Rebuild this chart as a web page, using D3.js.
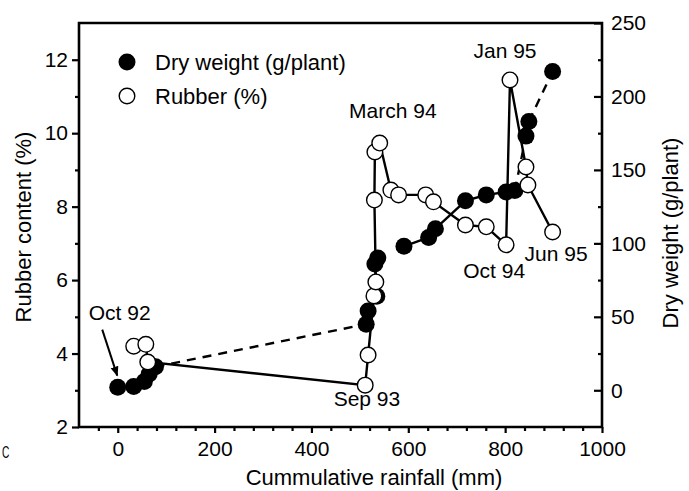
<!DOCTYPE html>
<html>
<head>
<meta charset="utf-8">
<script src="https://cdn.jsdelivr.net/npm/d3@7"></script>
<style>
  html, body { margin: 0; padding: 0; background: #fff; }
  svg text { font-family: "Liberation Sans", Arial, Helvetica, sans-serif; fill: #000; }
</style>
</head>
<body>
<svg id="chart" width="689" height="491"></svg>
<script>
// Cumulative rainfall (mm) and dry weight (g/plant) of the plants
const dryX = [0, 33, 55, 65, 78, 513, 517, 535, 531, 537, 591, 642, 656, 718, 761, 802, 820, 843, 849, 898];
const dryY = [2, 2.5, 6, 11, 16, 45, 54, 64, 86, 90, 98, 104, 110, 129, 133, 135, 136, 173, 183, 217];
// link to the next sampling: "solid" measured run, "dash" gap between runs, "none" not joined
const dryLink = ["solid", "solid", "solid", "solid", "dash", "solid", "solid", "solid", "solid", "none",
                 "solid", "solid", "solid", "solid", "solid", "solid", "dash", "solid", "dash"];

// Cumulative rainfall (mm) and rubber content (%)
const rubX = [33, 58, 62, 511, 517, 529, 533, 530, 531, 541, 564, 580, 636, 652, 718, 761, 802, 810, 843, 847, 898];
const rubY = [4.2, 4.25, 3.77, 3.14, 3.96, 5.57, 5.95, 8.18, 9.49, 9.73, 8.45, 8.32, 8.32, 8.13, 7.5, 7.45, 6.96, 11.45, 9.08, 8.59, 7.31];

// Tick values
const xMajor = [0, 200, 400, 600, 800, 1000];
const xMinor = [-40, 40, 80, 120, 160, 240, 280, 320, 360, 440, 480, 520, 560, 640, 680, 720, 760, 840, 880, 920, 960];
const leftMajor = [2, 4, 6, 8, 10, 12];
const leftMinor = [3, 5, 7, 9, 11];
const rightMajor = [0, 50, 100, 150, 200, 250];
const rightMinor = [25, 75, 125, 175, 225];

// Sampling dates (anchored near the sample they name)
const dateLabels = [
  { text: "Oct 92", x: 0, y: 4.91, anchor: "start", dx: -29 },
  { text: "Sep 93", x: 511, y: 2.57, anchor: "end", dx: 35 },
  { text: "March 94", x: 531, y: 10.41, anchor: "middle", dx: 18 },
  { text: "Oct 94", x: 802, y: 6.06, anchor: "end", dx: 19 },
  { text: "Jan 95", x: 810, y: 12.05, anchor: "middle", dx: -5 },
  { text: "Jun 95", x: 898, y: 6.52, anchor: "end", dx: 35 }
];

const svg = d3.select("#chart");
const L = 79, R = 602, T = 23, B = 427;

const x = d3.scaleLinear().domain([-80, 1000]).range([L, R]);
const yL = d3.scaleLinear().domain([2, 13]).range([B, T]);
const yR = d3.scaleLinear().domain([-25, 250]).range([B, T]);

const fs = 21;

// axes
function styleAxis(g) {
  g.select(".domain").remove();
  g.selectAll("line").attr("stroke", "#000").attr("stroke-width", 2.2);
  g.selectAll("text").style("font-size", fs + "px").attr("fill", "#000");
}

svg.append("g").attr("transform", `translate(${L},0)`)
  .call(d3.axisLeft(yL).tickValues(leftMinor).tickSize(4).tickFormat(""))
  .call(styleAxis);
svg.append("g").attr("transform", `translate(${L},0)`)
  .call(d3.axisLeft(yL).tickValues(leftMajor).tickSize(7).tickPadding(4).tickFormat(d3.format("d")))
  .call(styleAxis);

svg.append("g").attr("transform", `translate(0,${B})`)
  .call(d3.axisBottom(x).tickValues(xMinor).tickSize(4).tickFormat(""))
  .call(styleAxis);
svg.append("g").attr("transform", `translate(0,${B})`)
  .call(d3.axisBottom(x).tickValues(xMajor).tickSize(6).tickPadding(8).tickFormat(d3.format("d")))
  .call(styleAxis);

svg.append("g").attr("transform", `translate(${R},0)`)
  .call(d3.axisRight(yR).tickValues(rightMinor).tickSizeInner(-4).tickSizeOuter(0).tickFormat(""))
  .call(styleAxis);
svg.append("g").attr("transform", `translate(${R},0)`)
  .call(d3.axisRight(yR).tickValues(rightMajor).tickSizeInner(-8).tickSizeOuter(0).tickPadding(9).tickFormat(d3.format("d")))
  .call(styleAxis);

// frame
svg.append("path")
  .attr("d", `M${L},${T}H${R}V${B}H${L}Z`)
  .attr("fill", "none").attr("stroke", "#000").attr("stroke-width", 2.6);

// axis titles
svg.append("text").attr("transform", `translate(31,${(T + B) / 2 + 2}) rotate(-90)`)
  .attr("text-anchor", "middle").style("font-size", "22px").text("Rubber content (%)");
svg.append("text").attr("transform", `translate(678,${(T + B) / 2 + 8}) rotate(-90)`)
  .attr("text-anchor", "middle").style("font-size", "22px").text("Dry weight (g/plant)");
svg.append("text").attr("x", 374).attr("y", 485)
  .attr("text-anchor", "middle").style("font-size", "22px").text("Cummulative rainfall (mm)");
svg.append("text").attr("transform", "translate(2,458) scale(0.6,1)")
  .style("font-size", "17px").text("C");

// dry weight connections
const dryPts = dryX.map((v, i) => [x(v), yR(dryY[i])]);
const segs = svg.append("g");
dryLink.forEach((kind, i) => {
  if (kind === "none") return;
  segs.append("line")
    .attr("x1", dryPts[i][0]).attr("y1", dryPts[i][1])
    .attr("x2", dryPts[i + 1][0]).attr("y2", dryPts[i + 1][1])
    .attr("stroke", "#000").attr("stroke-width", 2.4)
    .attr("stroke-dasharray", kind === "dash" ? "9,7" : null);
});

// rubber line
svg.append("path")
  .datum(rubX.map((v, i) => [v, rubY[i]]))
  .attr("fill", "none").attr("stroke", "#000").attr("stroke-width", 2.4)
  .attr("d", d3.line().x(d => x(d[0])).y(d => yL(d[1])));

// markers
svg.append("g").selectAll("circle").data(dryPts).join("circle")
  .attr("cx", d => d[0]).attr("cy", d => d[1]).attr("r", 8.5).attr("fill", "#000");

svg.append("g").selectAll("circle").data(rubX.map((v, i) => [v, rubY[i]])).join("circle")
  .attr("cx", d => x(d[0])).attr("cy", d => yL(d[1])).attr("r", 7.8)
  .attr("fill", "#fff").attr("stroke", "#000").attr("stroke-width", 1.4);

// date annotations
svg.append("g").selectAll("text").data(dateLabels).join("text")
  .attr("x", d => x(d.x) + d.dx).attr("y", d => yL(d.y))
  .attr("text-anchor", d => d.anchor).style("font-size", "21px").text(d => d.text);

// arrow to the first sampling
svg.append("defs").append("marker")
  .attr("id", "head").attr("viewBox", "0 0 10 10").attr("refX", 9).attr("refY", 5)
  .attr("markerWidth", 5).attr("markerHeight", 5).attr("orient", "auto")
  .append("path").attr("d", "M0,1L10,5L0,9Z").attr("fill", "#000");
svg.append("line")
  .attr("x1", x(-32)).attr("y1", yL(4.65))
  .attr("x2", x(-1)).attr("y2", yL(3.4))
  .attr("stroke", "#000").attr("stroke-width", 2)
  .attr("marker-end", "url(#head)");

// legend
const legend = svg.append("g");
legend.append("circle").attr("cx", 127).attr("cy", 62).attr("r", 8.5).attr("fill", "#000");
legend.append("circle").attr("cx", 127).attr("cy", 96).attr("r", 7.8)
  .attr("fill", "#fff").attr("stroke", "#000").attr("stroke-width", 1.4);
legend.append("text").attr("x", 155).attr("y", 70).style("font-size", "22px").text("Dry weight (g/plant)");
legend.append("text").attr("x", 155).attr("y", 104).style("font-size", "22px").text("Rubber (%)");
</script>
</body>
</html>
